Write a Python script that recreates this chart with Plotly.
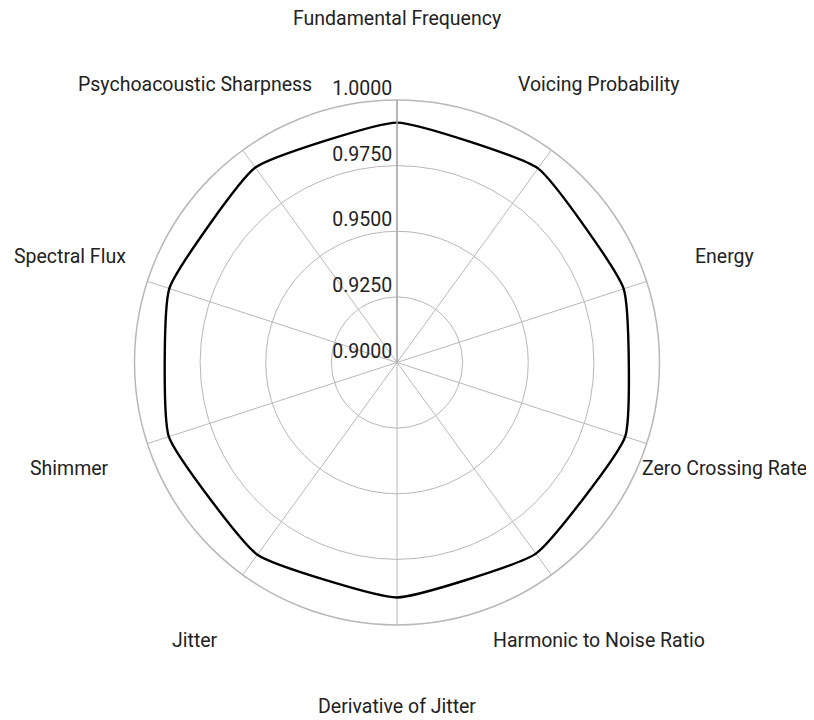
import math
import plotly.graph_objects as go

categories = [
    "Fundamental Frequency", "Voicing Probability", "Energy", "Zero Crossing Rate",
    "Harmonic to Noise Ratio", "Derivative of Jitter", "Jitter", "Shimmer",
    "Spectral Flux", "Psychoacoustic Sharpness",
]
values = [0.9914, 0.9914, 0.9908, 0.9914, 0.9900, 0.9895, 0.9905, 0.9914, 0.9912, 0.9918]
radial_ticks = [0.9, 0.925, 0.95, 0.975, 1.0]
radial_range = [0.9, 1.0]
label_r = 1.0310  # radial value at which category labels sit

FONT = "Roboto"
GRID = "#b8b8b8"
TXT = "#222222"
FS = 19.5

W, H = 814, 720
ML, MR, MT, MB = 0, 36, 92, 103
PW, PH = W - ML - MR, H - MT - MB

fig = go.Figure()

fig.add_trace(go.Scatterpolar(
    r=values + values[:1],
    theta=categories + categories[:1],
    mode="lines",
    line=dict(color="black", width=2.4, shape="spline", smoothing=0.4),
    hoverinfo="skip",
    showlegend=False,
))

# radial tick labels along the vertical axis
fig.add_trace(go.Scatterpolar(
    r=radial_ticks,
    theta=[categories[0]] * len(radial_ticks),
    mode="text",
    text=[f"{v:.4f}&nbsp;" for v in radial_ticks],
    textposition="top left",
    textfont=dict(family=FONT, size=FS, color=TXT),
    cliponaxis=False,
    hoverinfo="skip",
    showlegend=False,
))

# category labels placed beyond the outer circle (computed from category angle)
radius_px = min(PW, PH) / 2
cx, cy = PW / 2, PH / 2
frac = (label_r - radial_range[0]) / (radial_range[1] - radial_range[0])
n = len(categories)
annotations = []
for i, cat in enumerate(categories):
    ang = math.radians(90 - 360 * i / n)
    px = cx + frac * radius_px * math.cos(ang)
    py = cy + frac * radius_px * math.sin(ang)
    annotations.append(dict(
        x=px / PW, y=py / PH, xref="paper", yref="paper",
        text=cat, showarrow=False, xanchor="center", yanchor="middle",
        borderpad=0,
        font=dict(family=FONT, size=FS, color=TXT),
    ))

fig.update_layout(
    width=W, height=H,
    margin=dict(l=ML, r=MR, t=MT, b=MB),
    paper_bgcolor="white",
    plot_bgcolor="white",
    font=dict(family=FONT, size=FS, color=TXT),
    annotations=annotations,
    polar=dict(
        bgcolor="white",
        radialaxis=dict(
            range=radial_range,
            tickvals=radial_ticks,
            showticklabels=False,
            ticks="",
            angle=90,
            showline=True,
            linecolor="#a8a8a8",
            linewidth=1.5,
            gridcolor=GRID,
            gridwidth=1,
        ),
        angularaxis=dict(
            type="category",
            categoryarray=categories,
            direction="clockwise",
            rotation=90,
            showticklabels=False,
            ticks="",
            showline=True,
            linecolor=GRID,
            linewidth=1.5,
            gridcolor=GRID,
            gridwidth=1,
        ),
    ),
)

fig.write_html("out.html")
